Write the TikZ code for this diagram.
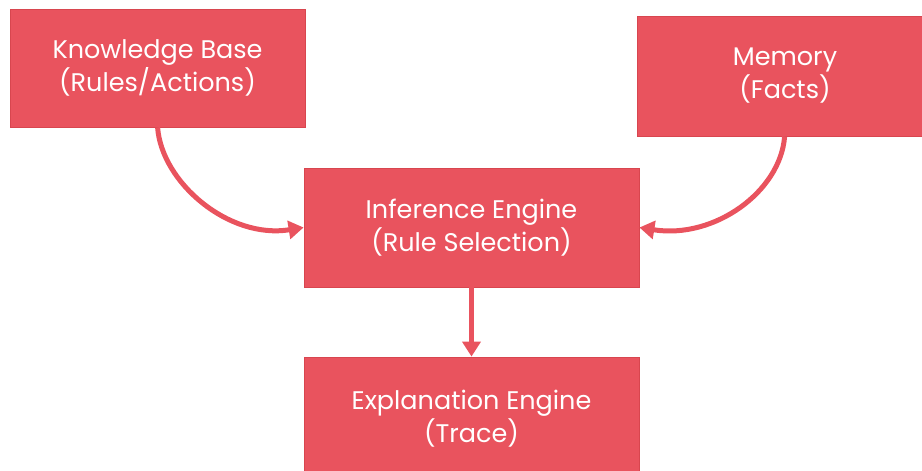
\documentclass[tikz,border=0pt]{standalone}
\usepackage{fontspec}
\setmainfont{Poppins}
\usetikzlibrary{arrows.meta}
\definecolor{boxred}{HTML}{E9535E}
\definecolor{boxedge}{HTML}{D8464F}
\begin{document}
\begin{tikzpicture}[x=1pt,y=-1pt,
  box/.style={fill=boxred,draw=boxedge,line width=0.8pt,text=white,align=center,
    font=\fontsize{25.5}{33}\selectfont},
  conn/.style={draw=boxred,line width=5pt,-{Triangle[length=15pt,width=18pt]}}]
\useasboundingbox (0,0) rectangle (922,471);
\clip (0,0) rectangle (922,471);
\node[box,minimum width=295pt,minimum height=118pt] (kb) at (157.5,68) {Knowledge Base\\(Rules/Actions)};
\node[box,minimum width=296pt,minimum height=120pt] (mem) at (785,76) {Memory\\(Facts)};
\node[box,minimum width=335pt,minimum height=119pt] (ie) at (471.5,227.5) {Inference Engine\\(Rule Selection)};
\node[box,minimum width=335pt,minimum height=123pt] (ex) at (471.5,418.5) {Explanation Engine\\(Trace)};
\draw[conn] ([xshift=148pt]kb.south west) .. controls ([xshift=152pt,yshift=-55pt]kb.south west) and ([xshift=-75pt,yshift=-12pt]ie.west) .. (ie.west);
\draw[conn] ([xshift=148pt]mem.south west) .. controls ([xshift=144pt,yshift=-55pt]mem.south west) and ([xshift=75pt,yshift=-12pt]ie.east) .. (ie.east);
\draw[conn] (ie.south) -- (ex.north);
\end{tikzpicture}
\end{document}
